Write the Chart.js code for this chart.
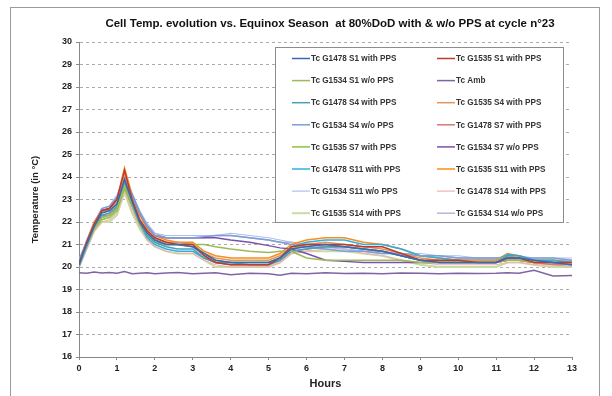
<!DOCTYPE html>
<html>
<head>
<meta charset="utf-8">
<script src="https://cdn.jsdelivr.net/npm/chart.js@4.4.1/dist/chart.umd.min.js"></script>
<style>
  html, body { margin: 0; padding: 0; background: #fff; overflow: hidden; }
  #wrap { position: relative; width: 612px; height: 396px; }
  #frame { position: absolute; left: 10px; top: 7px; width: 590px; height: 400px; border: 1px solid #9a9a9a; box-sizing: border-box; }
  canvas { position: absolute; left: 0; top: 0; }
</style>
</head>
<body>
<div id="wrap">
  <div id="frame"></div>
  <canvas id="chart" width="612" height="396"></canvas>
</div>
<script>
// x values (hours) shared by every series
const hours = [0, 0.2, 0.4, 0.6, 0.8, 1.0, 1.2, 1.4, 1.6, 1.8, 2.0, 2.3, 2.6, 3.0, 3.3, 3.6, 4.0, 4.5, 5.0, 5.3, 5.6, 6.0, 6.5, 7.0, 7.5, 8.0, 8.5, 9.0, 9.5, 10.0, 10.5, 11.0, 11.3, 11.6, 12.0, 12.5, 13.0];

// temperatures (°C)
const g1478S1 = [20.2, 21.0, 21.8, 22.4, 22.5, 22.8, 23.9, 22.9, 22.0, 21.5, 21.2, 21.0, 21.0, 20.9, 20.6, 20.3, 20.2, 20.2, 20.2, 20.4, 20.8, 20.9, 21.0, 20.9, 20.8, 20.7, 20.5, 20.3, 20.2, 20.2, 20.2, 20.2, 20.4, 20.4, 20.3, 20.2, 20.1];
const g1535S1 = [20.1, 21.1, 21.9, 22.5, 22.6, 23.0, 24.3, 23.0, 22.1, 21.6, 21.3, 21.1, 21.0, 21.0, 20.5, 20.2, 20.1, 20.1, 20.1, 20.4, 20.9, 21.0, 21.0, 21.0, 20.9, 20.9, 20.6, 20.3, 20.3, 20.3, 20.2, 20.2, 20.4, 20.4, 20.2, 20.2, 20.2];
const g1534S1 = [20.2, 21.0, 21.7, 22.2, 22.3, 22.6, 23.6, 22.8, 22.0, 21.5, 21.2, 21.0, 21.0, 21.0, 21.0, 20.9, 20.8, 20.7, 20.65, 20.7, 20.7, 20.4, 20.3, 20.3, 20.3, 20.3, 20.3, 20.2, 20.2, 20.2, 20.2, 20.2, 20.3, 20.3, 20.2, 20.2, 20.1];
const tcAmb = [19.75, 19.72, 19.78, 19.73, 19.76, 19.72, 19.8, 19.7, 19.72, 19.74, 19.7, 19.73, 19.75, 19.7, 19.72, 19.74, 19.66, 19.72, 19.7, 19.63, 19.72, 19.7, 19.74, 19.71, 19.72, 19.7, 19.73, 19.72, 19.7, 19.72, 19.71, 19.72, 19.74, 19.72, 19.85, 19.6, 19.62];
const g1478S4 = [20.1, 21.0, 21.8, 22.3, 22.4, 22.7, 23.7, 22.8, 22.0, 21.4, 21.1, 20.9, 20.8, 20.8, 20.4, 20.2, 20.2, 20.1, 20.1, 20.3, 20.7, 20.8, 20.9, 20.9, 20.8, 20.7, 20.5, 20.3, 20.2, 20.2, 20.2, 20.2, 20.5, 20.5, 20.3, 20.2, 20.1];
const g1535S4 = [20.2, 21.1, 21.9, 22.5, 22.5, 22.9, 24.1, 23.0, 22.1, 21.6, 21.3, 21.1, 21.1, 21.0, 20.6, 20.4, 20.3, 20.3, 20.3, 20.5, 20.9, 21.0, 21.1, 21.0, 20.9, 20.8, 20.6, 20.4, 20.3, 20.3, 20.3, 20.3, 20.5, 20.4, 20.3, 20.2, 20.2];
const g1534S4 = [20.3, 21.1, 21.9, 22.6, 22.7, 23.1, 24.0, 23.2, 22.4, 21.8, 21.4, 21.3, 21.3, 21.3, 21.35, 21.4, 21.4, 21.3, 21.2, 21.1, 21.0, 20.9, 20.8, 20.7, 20.7, 20.6, 20.6, 20.5, 20.5, 20.4, 20.4, 20.4, 20.4, 20.4, 20.4, 20.4, 20.3];
const g1478S7 = [20.1, 21.0, 21.8, 22.3, 22.3, 22.7, 23.8, 22.9, 22.0, 21.5, 21.2, 21.0, 21.0, 20.9, 20.5, 20.2, 20.1, 20.1, 20.1, 20.3, 20.7, 20.8, 20.9, 20.9, 20.8, 20.7, 20.5, 20.3, 20.2, 20.2, 20.2, 20.2, 20.3, 20.3, 20.2, 20.1, 20.1];
const g1535S7 = [20.1, 21.0, 21.7, 22.1, 22.2, 22.5, 23.5, 22.7, 21.9, 21.4, 21.1, 21.0, 21.0, 21.0, 20.6, 20.3, 20.2, 20.2, 20.2, 20.4, 20.8, 21.0, 21.0, 20.9, 20.8, 20.7, 20.5, 20.3, 20.2, 20.2, 20.2, 20.2, 20.4, 20.4, 20.2, 20.2, 20.1];
const g1534S7 = [20.2, 21.1, 21.9, 22.5, 22.6, 23.0, 23.8, 23.2, 22.4, 21.8, 21.4, 21.3, 21.3, 21.3, 21.3, 21.3, 21.2, 21.1, 20.95, 20.85, 20.8, 20.6, 20.3, 20.25, 20.2, 20.2, 20.2, 20.2, 20.2, 20.2, 20.2, 20.2, 20.3, 20.3, 20.2, 20.2, 20.2];
const g1478S11 = [20.0, 20.9, 21.7, 22.2, 22.3, 22.6, 23.6, 22.7, 21.9, 21.3, 21.0, 20.8, 20.7, 20.7, 20.4, 20.2, 20.2, 20.2, 20.2, 20.4, 20.9, 21.1, 21.2, 21.2, 21.0, 21.0, 20.8, 20.5, 20.4, 20.3, 20.3, 20.3, 20.55, 20.5, 20.3, 20.3, 20.2];
const g1535S11 = [20.2, 21.1, 22.0, 22.5, 22.6, 23.0, 24.4, 23.2, 22.3, 21.7, 21.4, 21.2, 21.1, 21.1, 20.7, 20.5, 20.4, 20.4, 20.4, 20.6, 21.0, 21.2, 21.3, 21.3, 21.1, 21.0, 20.8, 20.5, 20.4, 20.3, 20.3, 20.3, 20.6, 20.5, 20.3, 20.3, 20.2];
const g1534S11 = [20.3, 21.2, 22.0, 22.6, 22.7, 23.2, 24.0, 23.3, 22.5, 21.9, 21.5, 21.4, 21.4, 21.4, 21.4, 21.4, 21.5, 21.4, 21.3, 21.2, 21.1, 21.0, 20.9, 20.8, 20.7, 20.7, 20.6, 20.6, 20.5, 20.5, 20.4, 20.4, 20.5, 20.5, 20.4, 20.4, 20.4];
const g1478S14 = [20.0, 20.8, 21.6, 22.0, 22.1, 22.4, 23.4, 22.5, 21.8, 21.2, 20.9, 20.7, 20.6, 20.6, 20.3, 20.1, 20.0, 20.0, 20.0, 20.2, 20.6, 20.7, 20.8, 20.8, 20.6, 20.5, 20.3, 20.2, 20.1, 20.1, 20.1, 20.1, 20.2, 20.2, 20.1, 20.1, 20.0];
const g1535S14 = [20.0, 20.8, 21.6, 22.0, 22.0, 22.3, 23.3, 22.4, 21.7, 21.2, 20.9, 20.7, 20.6, 20.6, 20.3, 20.0, 20.0, 20.0, 20.0, 20.2, 20.6, 20.7, 20.7, 20.7, 20.6, 20.5, 20.3, 20.1, 20.0, 20.0, 20.0, 20.0, 20.2, 20.2, 20.1, 20.0, 20.0];
const g1534S14 = [20.3, 21.1, 22.0, 22.5, 22.6, 23.1, 23.9, 23.2, 22.5, 21.9, 21.5, 21.3, 21.3, 21.3, 21.3, 21.4, 21.4, 21.3, 21.2, 21.1, 21.1, 21.0, 20.9, 20.8, 20.7, 20.6, 20.6, 20.5, 20.5, 20.4, 20.4, 20.4, 20.4, 20.4, 20.3, 20.3, 20.3];

const seriesNames = [
  'Tc G1478 S1 with PPS', 'Tc G1535 S1 with PPS',
  'Tc G1534 S1 w/o PPS', 'Tc Amb',
  'Tc G1478 S4 with PPS', 'Tc G1535 S4 with PPS',
  'Tc G1534 S4 w/o PPS', 'Tc G1478 S7 with PPS',
  'Tc G1535 S7 with PPS', 'Tc G1534 S7 w/o PPS',
  'Tc G1478 S11 with PPS', 'Tc G1535 S11 with PPS',
  'Tc G1534 S11 w/o PPS', 'Tc G1478 S14 with PPS',
  'Tc G1535 S14 with PPS', 'Tc G1534 S14 w/o PPS'
];
const seriesValues = [g1478S1, g1535S1, g1534S1, tcAmb, g1478S4, g1535S4, g1534S4, g1478S7,
  g1535S7, g1534S7, g1478S11, g1535S11, g1534S11, g1478S14, g1535S14, g1534S14];

// looks
const lineColors = ['#3a68b0', '#c0392f', '#9bbb59', '#7e64a6', '#4a9fb8', '#e0965c', '#7ba0d8', '#d9787a',
  '#8cc43c', '#7b50ad', '#2fb0dc', '#f88c1c', '#a9c1ea', '#f0b2b0', '#c8dca6', '#bfb2d6'];
const lineWidths = [1.5, 1.5, 1.5, 1.5, 1.5, 1.5, 1.5, 1.5, 1.5, 1.5, 1.5, 1.5, 1.2, 1.2, 2, 1.5];

const FONT = '"Liberation Sans", Arial, sans-serif';

const datasets = seriesNames.map((name, i) => ({
  label: name,
  data: hours.map((h, j) => ({ x: h, y: seriesValues[i][j] })),
  borderColor: lineColors[i],
  backgroundColor: lineColors[i],
  borderWidth: lineWidths[i],
  pointRadius: 0,
  tension: 0,
  fill: false
}));

// title + boxed two-column legend drawn over the plot
const overlayPlugin = {
  id: 'overlay',
  afterDraw(chart) {
    const ctx = chart.ctx;
    ctx.save();
    ctx.fillStyle = '#111';
    ctx.font = 'bold 11.5px ' + FONT;
    ctx.textAlign = 'center';
    ctx.textBaseline = 'middle';
    ctx.fillText('Cell Temp. evolution vs. Equinox Season  at 80%DoD with & w/o PPS at cycle n°23', 330, 24);

    // legend box
    const bx = 275.5, by = 47.5, bw = 288, bh = 175;
    ctx.fillStyle = '#fff';
    ctx.fillRect(bx, by, bw, bh);
    ctx.strokeStyle = '#8c8c8c';
    ctx.lineWidth = 1;
    ctx.strokeRect(bx, by, bw, bh);

    ctx.font = 'bold 8.2px ' + FONT;
    ctx.textAlign = 'left';
    chart.data.datasets.forEach((ds, i) => {
      const col = i % 2, row = Math.floor(i / 2);
      const lx = col === 0 ? 292 : 437;
      const ly = 58.5 + row * 22.1;
      ctx.strokeStyle = ds.borderColor;
      ctx.lineWidth = ds.borderWidth;
      ctx.beginPath();
      ctx.moveTo(lx, ly);
      ctx.lineTo(lx + 18, ly);
      ctx.stroke();
      ctx.fillStyle = '#333';
      ctx.fillText(ds.label, lx + 19, ly + 0.5);
    });
    ctx.restore();
  }
};

new Chart(document.getElementById('chart'), {
  type: 'line',
  data: { datasets },
  plugins: [overlayPlugin],
  options: {
    responsive: false,
    animation: false,
    layout: { padding: { left: 0, top: 42, right: 40, bottom: 0 } },
    plugins: { legend: { display: false }, tooltip: { enabled: false }, title: { display: false } },
    scales: {
      x: {
        type: 'linear',
        min: 0, max: 13,
        afterFit(scale) { scale.height = 39; },
        ticks: { stepSize: 1, color: '#222', padding: 3, font: { family: FONT, size: 9, weight: 'bold' } },
        grid: { display: true, drawOnChartArea: false, drawTicks: true, tickLength: 3, tickColor: '#888' },
        border: { display: true, color: '#888', width: 1 },
        title: { display: true, text: 'Hours', color: '#222', padding: { top: 0, bottom: 5 }, font: { family: FONT, size: 11, weight: 'bold' } }
      },
      y: {
        min: 16, max: 30,
        afterFit(scale) { scale.width = 79; },
        ticks: {
          stepSize: 0.5, color: '#222', padding: 4,
          callback: v => (v % 1 === 0 ? String(v) : ''),
          font: { family: FONT, size: 9, weight: 'bold' }
        },
        grid: {
          color: c => (c.tick && c.tick.value % 1 === 0 && c.tick.value !== 16 ? '#ababab' : 'rgba(0,0,0,0)'),
          lineWidth: 1,
          drawTicks: true, tickLength: 3, tickColor: '#888'
        },
        border: { display: true, color: '#888', width: 1, dash: [3, 3] },
        title: { display: true, text: 'Temperature (in °C)', color: '#222', padding: { top: 30, bottom: 0 }, font: { family: FONT, size: 9.5, weight: 'bold' } }
      }
    }
  }
});
</script>
</body>
</html>
